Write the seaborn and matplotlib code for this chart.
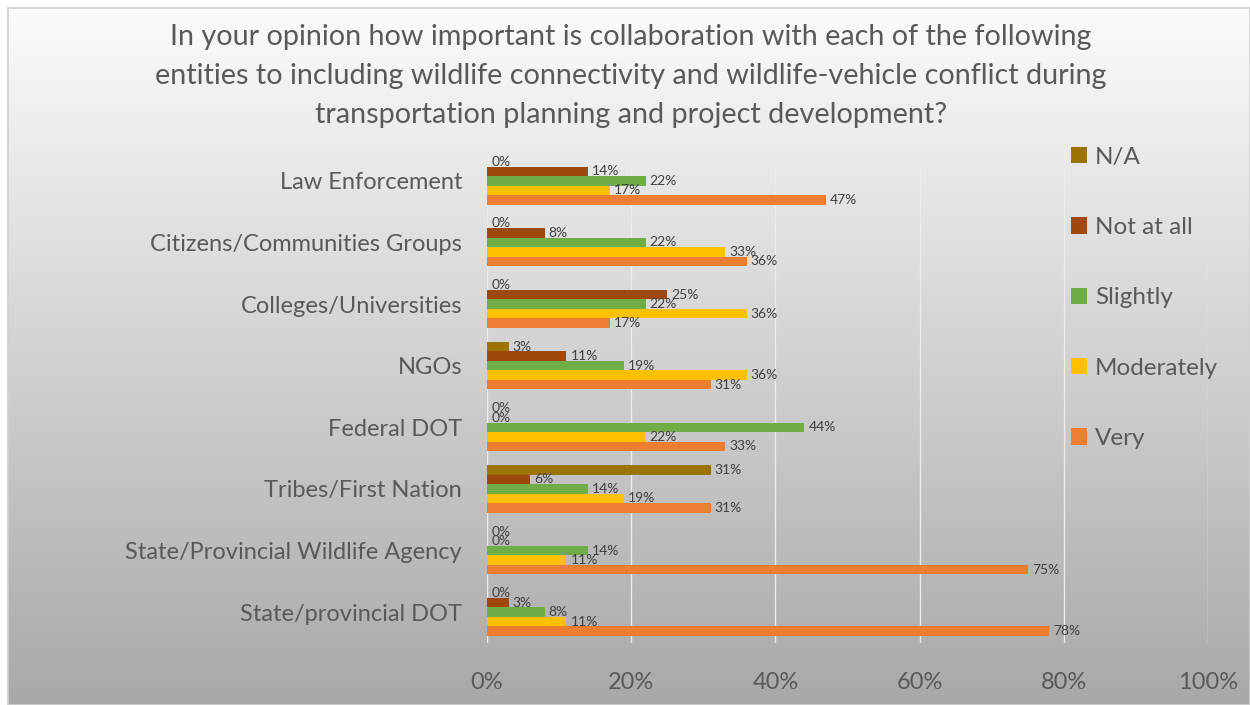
import numpy as np
import pandas as pd
import matplotlib
matplotlib.use("Agg")
import matplotlib.pyplot as plt
import seaborn as sns

# Survey categories (top to bottom) and response shares in percent
categories = [
    "Law Enforcement",
    "Citizens/Communities Groups",
    "Colleges/Universities",
    "NGOs",
    "Federal DOT",
    "Tribes/First Nation",
    "State/Provincial Wildlife Agency",
    "State/provincial DOT",
]
responses = ["N/A", "Not at all", "Slightly", "Moderately", "Very"]

na_vals         = [0, 0, 0, 3, 0, 31, 0, 0]
not_at_all_vals = [14, 8, 25, 11, 0, 6, 0, 3]
slightly_vals   = [22, 22, 22, 19, 44, 14, 14, 8]
moderately_vals = [17, 33, 36, 36, 22, 19, 11, 11]
very_vals       = [47, 36, 17, 31, 33, 31, 75, 78]

xticks = [0, 20, 40, 60, 80, 100]
title = ("In your opinion how important is collaboration with each of the following\n"
         "entities to including wildlife connectivity and wildlife-vehicle conflict during\n"
         "transportation planning and project development?")

colors = ["#9C7200", "#9E480E", "#70AD47", "#FFC000", "#ED7D31"]

series = [na_vals, not_at_all_vals, slightly_vals, moderately_vals, very_vals]
df = pd.DataFrame({
    "Entity": np.tile(categories, len(responses)),
    "Response": np.repeat(responses, len(categories)),
    "Percent": np.concatenate(series),
})

sns.set_theme(style="white")
plt.rcParams["font.family"] = ["Lato", "DejaVu Sans"]
text_color = "#595959"

W, H = 1250, 705
fig = plt.figure(figsize=(W / 100, H / 100), dpi=100, facecolor="white")

# Vertical gradient panel behind the chart
bg = fig.add_axes([8 / W, 0, 1 - 8 / W, 1 - 8 / H], zorder=0)
grad = np.linspace(0.985, 0.66, 256).reshape(-1, 1)
bg.imshow(np.dstack([grad, grad, grad]), aspect="auto", extent=[0, 1, 0, 1],
          interpolation="bicubic")
bg.set_xticks([]); bg.set_yticks([])
for s in bg.spines.values():
    s.set_color("#d0d0d0")
    s.set_linewidth(1.2)

ax = fig.add_axes([487 / W, 1 - 643 / H, 721 / W, 493 / H], zorder=1)
ax.set_facecolor("none")

sns.barplot(data=df, y="Entity", x="Percent", hue="Response",
            hue_order=responses, order=categories, palette=colors,
            orient="h", width=0.77, gap=0, saturation=1, errorbar=None,
            linewidth=0, edgecolor="none", ax=ax)

for cont in ax.containers:
    ax.bar_label(cont, labels=[f"{v:.0f}%" for v in cont.datavalues],
                 padding=3, fontsize=10, color="#404040")

ax.set_xlim(0, 100)
ax.set_xticks(xticks)
ax.set_xticklabels([f"{t}%" for t in xticks])
ax.tick_params(axis="x", labelsize=17, labelcolor=text_color, pad=21, length=0)
ax.tick_params(axis="y", labelsize=17, labelcolor=text_color, pad=18, length=0)
ax.set_xlabel("")
ax.set_ylabel("")
ax.grid(axis="x", color="#ececec", linewidth=1)
ax.set_axisbelow(True)
for s in ax.spines.values():
    s.set_visible(False)

leg = ax.legend(loc="upper left", bbox_to_anchor=(1061 / W, 1 - 137 / H),
                bbox_transform=fig.transFigure, frameon=False, fontsize=17.5,
                handlelength=0.65, handleheight=0.65, handletextpad=0.35,
                labelspacing=2.03, borderaxespad=0)
for t in leg.get_texts():
    t.set_color(text_color)

fig.text(631 / W, 1 - 76 / H, title, ha="center", va="center",
         fontsize=20.7, color=text_color, linespacing=1.6)

fig.savefig("out.png", dpi=100, facecolor="white")
